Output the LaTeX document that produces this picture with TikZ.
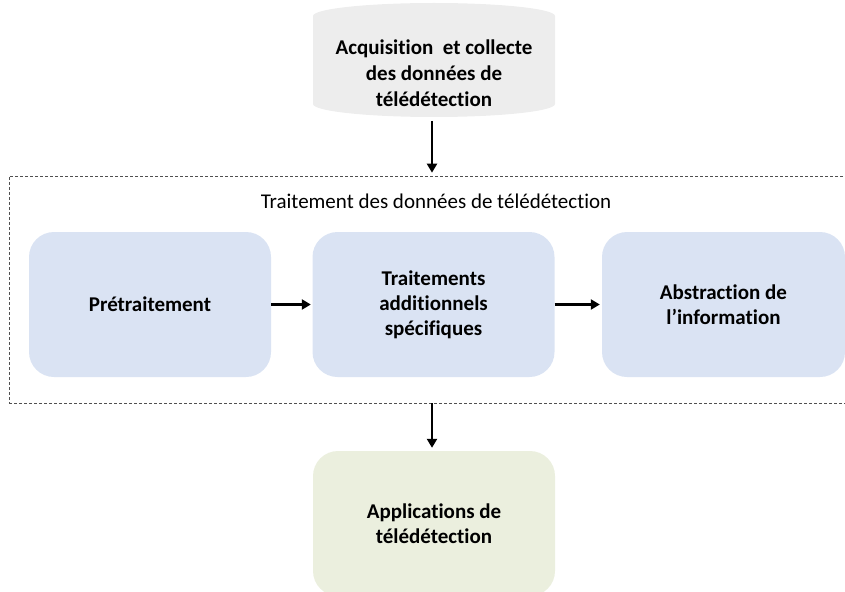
\documentclass[tikz,border=0pt]{standalone}
\usepackage{fontspec}
\setmainfont{Carlito}[RawFeature=-liga]
\usepackage{tikz}
\usetikzlibrary{arrows, arrows.meta, calc}
\definecolor{cylfill}{HTML}{EDEDED}
\definecolor{bleu}{HTML}{DAE3F3}
\definecolor{vert}{HTML}{EBEFDE}
\definecolor{cadre}{HTML}{505050}

\begin{document}
\begin{tikzpicture}[x=1pt, y=-1pt,
        etape/.style={rounded corners=25pt, fill=bleu, minimum width=242pt, minimum height=145pt, align=center, font=\fontsize{21}{25}\selectfont\bfseries},
        fleche/.style={-{Triangle[width=10pt, length=9pt]}, line width=2.4pt}]
        \useasboundingbox (0,0) rectangle (845,591);

        \fill[cylfill] (313,16) arc[start angle=180, end angle=360, x radius=121, y radius=13] -- (555,104) arc[start angle=0, end angle=180, x radius=121, y radius=13] -- cycle;
        \node[align=center, font=\fontsize{21}{26}\selectfont\bfseries] (acq) at (434,73) {Acquisition~ et collecte\\des donn\'ees de\\t\'el\'ed\'etection};
        \coordinate (acqbas) at (432,121);

        \node[draw=cadre, line width=0.7pt, dash pattern=on 3pt off 2pt, minimum width=851pt, minimum height=227pt] (trait) at (434.5,289.5) {};
        \node[font=\fontsize{21}{25}\selectfont] (titre) at (436,201) {Traitement des donn\'ees de t\'el\'ed\'etection};

        \node[etape] (pre) at (150,304.5) {Pr\'etraitement};
        \node[etape] (add) at (433.5,304.5) {Traitements\\additionnels\\sp\'ecifiques};
        \node[etape, minimum width=243pt] (abs) at (723.5,304.5) {Abstraction de\\l'information};
        \node[etape, fill=vert] (appl) at (434,523.5) {Applications de\\t\'el\'ed\'etection};

        \draw[fleche, shorten >=3pt] (acqbas) -- (acqbas |- trait.north);
        \draw[fleche, shorten >=1.5pt] (pre) -- (add);
        \draw[fleche, shorten >=2pt] (add) -- (abs);
        \draw[fleche, shorten >=3pt] (trait.south -| 432,0) -- (432,0 |- appl.north);
\end{tikzpicture}
\end{document}
